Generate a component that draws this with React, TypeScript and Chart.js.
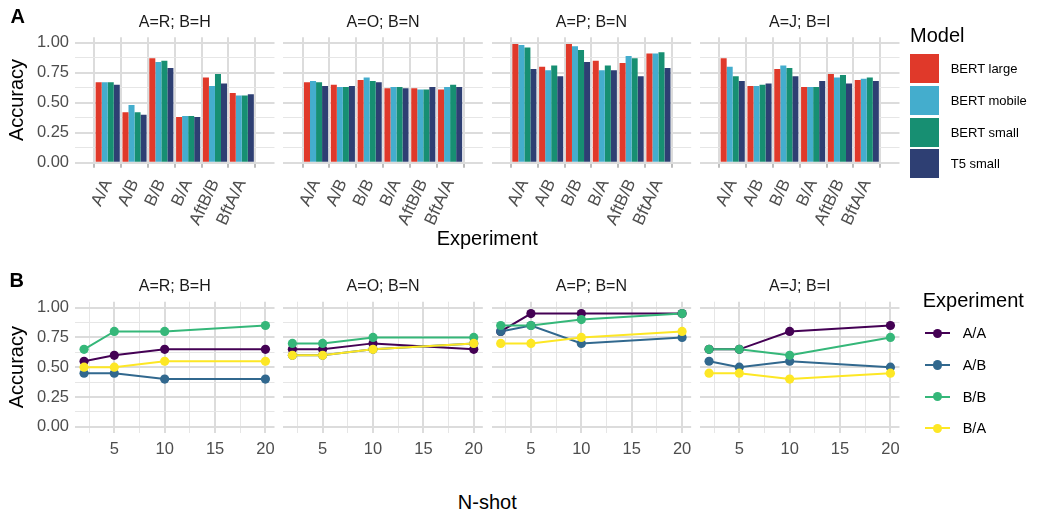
import React, { useEffect, useRef } from "react";
import { Chart, registerables } from "chart.js";

Chart.register(...registerables);

const FONT = '"Liberation Sans", Arial, Helvetica, sans-serif';
Chart.defaults.font.family = FONT;

// ---------------- data ----------------
const facetTitles = ["A=R; B=H", "A=O; B=N", "A=P; B=N", "A=J; B=I"];
const experiments = ["A/A", "A/B", "B/B", "B/A", "AftB/B", "BftA/A"];
const modelNames = ["BERT large", "BERT mobile", "BERT small", "T5 small"];
const modelColors = ["#E0392A", "#44ADCD", "#178F72", "#2E3F73"];

// panel A: accuracy per experiment (order of `experiments`)
const rhBertLarge = [0.67, 0.42, 0.87, 0.38, 0.71, 0.58];
const rhBertMobile = [0.67, 0.48, 0.84, 0.39, 0.64, 0.56];
const rhBertSmall = [0.67, 0.42, 0.85, 0.39, 0.74, 0.56];
const rhT5Small = [0.65, 0.40, 0.79, 0.38, 0.66, 0.57];

const onBertLarge = [0.67, 0.65, 0.69, 0.62, 0.62, 0.61];
const onBertMobile = [0.68, 0.63, 0.71, 0.63, 0.61, 0.63];
const onBertSmall = [0.67, 0.63, 0.68, 0.63, 0.61, 0.65];
const onT5Small = [0.64, 0.64, 0.67, 0.62, 0.63, 0.63];

const pnBertLarge = [0.99, 0.80, 0.99, 0.85, 0.83, 0.91];
const pnBertMobile = [0.98, 0.77, 0.97, 0.77, 0.89, 0.91];
const pnBertSmall = [0.96, 0.81, 0.94, 0.81, 0.87, 0.92];
const pnT5Small = [0.78, 0.72, 0.84, 0.77, 0.72, 0.79];

const jiBertLarge = [0.87, 0.64, 0.78, 0.63, 0.74, 0.69];
const jiBertMobile = [0.80, 0.64, 0.81, 0.63, 0.71, 0.70];
const jiBertSmall = [0.72, 0.65, 0.79, 0.63, 0.73, 0.71];
const jiT5Small = [0.68, 0.66, 0.72, 0.68, 0.66, 0.68];

// panel B: accuracy vs N-shot
const nShots = [2, 5, 10, 20];
const lineExperiments = ["A/A", "A/B", "B/B", "B/A"];
const lineColors = ["#440154", "#31688E", "#35B779", "#FDE725"];

const rhAA = [0.55, 0.60, 0.65, 0.65];
const rhAB = [0.45, 0.45, 0.40, 0.40];
const rhBB = [0.65, 0.80, 0.80, 0.85];
const rhBA = [0.50, 0.50, 0.55, 0.55];

const onAA = [0.65, 0.65, 0.70, 0.65];
const onAB = [0.60, 0.60, 0.65, 0.70];
const onBB = [0.70, 0.70, 0.75, 0.75];
const onBA = [0.60, 0.60, 0.65, 0.70];

const pnAA = [0.80, 0.95, 0.95, 0.95];
const pnAB = [0.80, 0.85, 0.70, 0.75];
const pnBB = [0.85, 0.85, 0.90, 0.95];
const pnBA = [0.70, 0.70, 0.75, 0.80];

const jiAA = [0.65, 0.65, 0.80, 0.85];
const jiAB = [0.55, 0.50, 0.55, 0.50];
const jiBB = [0.65, 0.65, 0.60, 0.75];
const jiBA = [0.45, 0.45, 0.40, 0.45];

// tick values
const yTickValues = [0, 0.125, 0.25, 0.375, 0.5, 0.625, 0.75, 0.875, 1];
const shotTickValues = [2.5, 5, 7.5, 10, 12.5, 15, 17.5, 20];

const barSeries = [
  [rhBertLarge, rhBertMobile, rhBertSmall, rhT5Small],
  [onBertLarge, onBertMobile, onBertSmall, onT5Small],
  [pnBertLarge, pnBertMobile, pnBertSmall, pnT5Small],
  [jiBertLarge, jiBertMobile, jiBertSmall, jiT5Small],
];
const lineSeries = [
  [rhAA, rhAB, rhBB, rhBA],
  [onAA, onAB, onBB, onBA],
  [pnAA, pnAB, pnBB, pnBA],
  [jiAA, jiAB, jiBB, jiBA],
];

// ---------------- layout ----------------
const PANEL_LEFT0 = 75;
const PANEL_STEP = 208.33;
const PANEL_W = 199.5;
const SIDE_PAD = 24;
const TOP_ROW = { boxTop: 0, boxH: 240, panelTop: 37.3, panelBottom: 162.7, yMin: 0, yMax: 1.045 };
const BOT_ROW = { boxTop: 260, boxH: 200, panelTop: 301.7, panelBottom: 432.7, yMin: -0.05, yMax: 1.05 };

const GRID_MAJOR = "#DCDCDC";
const GRID_MINOR = "#E6E6E6";
const TICK_TEXT = "#4D4D4D";
const TICK_FONT = 16.5;
const ROT_FONT = 17;
const ROT_ANGLE = 65;
const STRIP_FONT = 16;

const isQuarter = (v: number) => Math.abs(v * 4 - Math.round(v * 4)) < 1e-6;
const isFive = (v: number) => Math.abs(v / 5 - Math.round(v / 5)) < 1e-6;

function Facet({ kind, idx }: { kind: "bar" | "line"; idx: number }) {
  const ref = useRef<HTMLCanvasElement | null>(null);
  const first = idx === 0;
  const g = kind === "bar" ? TOP_ROW : BOT_ROW;
  const panelLeft = PANEL_LEFT0 + idx * PANEL_STEP;
  const boxLeft = first ? 0 : Math.floor(panelLeft - SIDE_PAD);
  const boxRight = Math.ceil(panelLeft + PANEL_W + SIDE_PAD);
  const boxW = boxRight - boxLeft;
  const padLeft = first ? 0 : panelLeft - boxLeft;
  const padRight = boxRight - (panelLeft + PANEL_W);
  const yAxisW = first ? panelLeft : 0;
  const padTop = g.panelTop - g.boxTop;
  const xAxisH = g.boxH - padTop - (g.panelBottom - g.panelTop);

  useEffect(() => {
    if (!ref.current) return;
    let datasets: any[] = [];
    let xScale: any;
    if (kind === "bar") {
      datasets = barSeries[idx].map((vals, m) => ({
        type: "bar",
        label: modelNames[m],
        data: vals.map((v, i) => ({ x: i + 1, y: v })),
        backgroundColor: modelColors[m],
        borderWidth: 0,
        categoryPercentage: 0.9,
        barPercentage: 1.0,
      }));
      xScale = {
        type: "linear",
        min: 0.4,
        max: 6.6,
        afterBuildTicks: (s: any) => {
          s.ticks = experiments.map((_, i) => ({ value: i + 1 }));
        },
        afterFit: (s: any) => {
          s.height = xAxisH;
        },
        border: { display: false },
        grid: {
          color: GRID_MAJOR,
          lineWidth: 2,
          drawTicks: true,
          tickLength: 5,
          tickColor: "#9A9A9A",
          tickWidth: 1.3,
        },
        ticks: {
          autoSkip: false,
          minRotation: ROT_ANGLE,
          maxRotation: ROT_ANGLE,
          padding: 8.5,
          color: TICK_TEXT,
          font: { size: ROT_FONT },
          callback: (v: any) => experiments[Math.round(v) - 1] ?? "",
        },
      };
    } else {
      const lines = lineSeries[idx].map((vals, k) => ({
        type: "line",
        label: lineExperiments[k],
        data: vals.map((v, i) => ({ x: nShots[i], y: v })),
        borderColor: lineColors[k],
        borderWidth: 2,
        pointRadius: 0,
        fill: false,
        tension: 0,
        order: 8 - k,
      }));
      const points = lineSeries[idx].map((vals, k) => ({
        type: "line",
        label: lineExperiments[k] + " points",
        data: vals.map((v, i) => ({ x: nShots[i], y: v })),
        showLine: false,
        pointRadius: 4.6,
        pointBackgroundColor: lineColors[k],
        pointBorderWidth: 0,
        borderColor: lineColors[k],
        order: 4 - k,
      }));
      datasets = [...lines, ...points];
      xScale = {
        type: "linear",
        min: 1.1,
        max: 20.9,
        afterBuildTicks: (s: any) => {
          s.ticks = shotTickValues.map((v) => ({ value: v }));
        },
        afterFit: (s: any) => {
          s.height = xAxisH;
        },
        border: { display: false },
        grid: {
          color: (c: any) => (c.tick && isFive(c.tick.value) ? GRID_MAJOR : GRID_MINOR),
          lineWidth: (c: any) => (c.tick && isFive(c.tick.value) ? 2 : 1),
          drawTicks: false,
        },
        ticks: {
          autoSkip: false,
          maxRotation: 0,
          minRotation: 0,
          padding: 7,
          color: TICK_TEXT,
          font: { size: TICK_FONT },
          callback: (v: any) => (isFive(v) ? String(v) : ""),
        },
      };
    }

    const chart = new Chart(ref.current, {
      type: kind === "bar" ? "bar" : "line",
      data: { datasets },
      options: {
        animation: false,
        responsive: false,
        events: [],
        layout: { padding: { left: padLeft, right: padRight, top: padTop, bottom: 0 } },
        plugins: { legend: { display: false }, tooltip: { enabled: false }, title: { display: false } },
        scales: {
          x: xScale,
          y: {
            type: "linear",
            min: g.yMin,
            max: g.yMax,
            afterBuildTicks: (s: any) => {
              s.ticks = yTickValues.map((v) => ({ value: v }));
            },
            afterFit: (s: any) => {
              s.width = yAxisW;
            },
            border: { display: false },
            grid: {
              color: (c: any) => (c.tick && isQuarter(c.tick.value) ? GRID_MAJOR : GRID_MINOR),
              lineWidth: (c: any) => (c.tick && isQuarter(c.tick.value) ? 2 : 1),
              drawTicks: false,
            },
            ticks: {
              display: first,
              autoSkip: false,
              padding: 6,
              color: TICK_TEXT,
              font: { size: TICK_FONT },
              callback: (v: any) => (isQuarter(v) ? Number(v).toFixed(2) : ""),
            },
            title: {
              display: first,
              text: "Accuracy",
              color: "#000000",
              font: { size: 20 },
              padding: { top: 5.5, bottom: 0 },
            },
          },
        },
      } as any,
    });
    return () => chart.destroy();
  }, []);

  return (
    <div style={{ position: "absolute", left: boxLeft, top: g.boxTop, width: boxW, height: g.boxH }}>
      <canvas ref={ref} width={boxW} height={g.boxH} style={{ display: "block" }} />
    </div>
  );
}

function Txt(props: {
  x: number;
  y: number;
  size: number;
  color?: string;
  bold?: boolean;
  center?: boolean;
  children: React.ReactNode;
}) {
  const { x, y, size, color, bold, center, children } = props;
  return (
    <div
      style={{
        position: "absolute",
        left: x,
        top: y - 0.8465 * size,
        fontSize: size,
        lineHeight: `${size}px`,
        fontFamily: FONT,
        color: color ?? "#000",
        fontWeight: bold ? 700 : 400,
        whiteSpace: "nowrap",
        transform: center ? "translateX(-50%)" : undefined,
      }}
    >
      {children}
    </div>
  );
}

export default function App() {
  const centers = facetTitles.map((_, i) => PANEL_LEFT0 + i * PANEL_STEP + PANEL_W / 2);
  const plotCenter = (PANEL_LEFT0 + PANEL_LEFT0 + 3 * PANEL_STEP + PANEL_W) / 2;
  return (
    <div
      style={{
        position: "absolute",
        left: 0,
        top: 0,
        width: 1039,
        height: 514,
        background: "#ffffff",
        overflow: "hidden",
        fontFamily: FONT,
      }}
    >
      {facetTitles.map((_, i) => (
        <Facet key={"b" + i} kind="bar" idx={i} />
      ))}
      {facetTitles.map((_, i) => (
        <Facet key={"l" + i} kind="line" idx={i} />
      ))}

      <Txt x={10.5} y={22.7} size={20} bold>
        A
      </Txt>
      <Txt x={9.5} y={286.7} size={20} bold>
        B
      </Txt>

      {facetTitles.map((t, i) => (
        <Txt key={"st" + i} x={centers[i]} y={27.5} size={STRIP_FONT} color="#1A1A1A" center>
          {t}
        </Txt>
      ))}
      {facetTitles.map((t, i) => (
        <Txt key={"sb" + i} x={centers[i]} y={291.7} size={STRIP_FONT} color="#1A1A1A" center>
          {t}
        </Txt>
      ))}

      <Txt x={plotCenter} y={245} size={20} center>
        Experiment
      </Txt>
      <Txt x={plotCenter} y={509} size={20} center>
        N-shot
      </Txt>

      {/* Model legend */}
      <Txt x={910} y={41.7} size={20}>
        Model
      </Txt>
      {modelNames.map((m, k) => (
        <React.Fragment key={"ml" + k}>
          <div
            style={{
              position: "absolute",
              left: 910,
              top: 54.3 + k * 31.6,
              width: 29,
              height: 29,
              background: modelColors[k],
            }}
          />
          <Txt x={950.7} y={54.3 + k * 31.6 + 14.5 + 4.7} size={13}>
            {m}
          </Txt>
        </React.Fragment>
      ))}

      {/* Experiment legend */}
      <Txt x={922.7} y={306.7} size={20}>
        Experiment
      </Txt>
      {lineExperiments.map((e, k) => {
        const cy = 333.3 + k * 31.7;
        return (
          <React.Fragment key={"el" + k}>
            <div
              style={{
                position: "absolute",
                left: 925,
                top: cy - 1,
                width: 25,
                height: 2,
                background: lineColors[k],
              }}
            />
            <div
              style={{
                position: "absolute",
                left: 937.5 - 4.6,
                top: cy - 4.6,
                width: 9.2,
                height: 9.2,
                borderRadius: "50%",
                background: lineColors[k],
              }}
            />
            <Txt x={962.7} y={cy + 5.2} size={14.5}>
              {e}
            </Txt>
          </React.Fragment>
        );
      })}
    </div>
  );
}
